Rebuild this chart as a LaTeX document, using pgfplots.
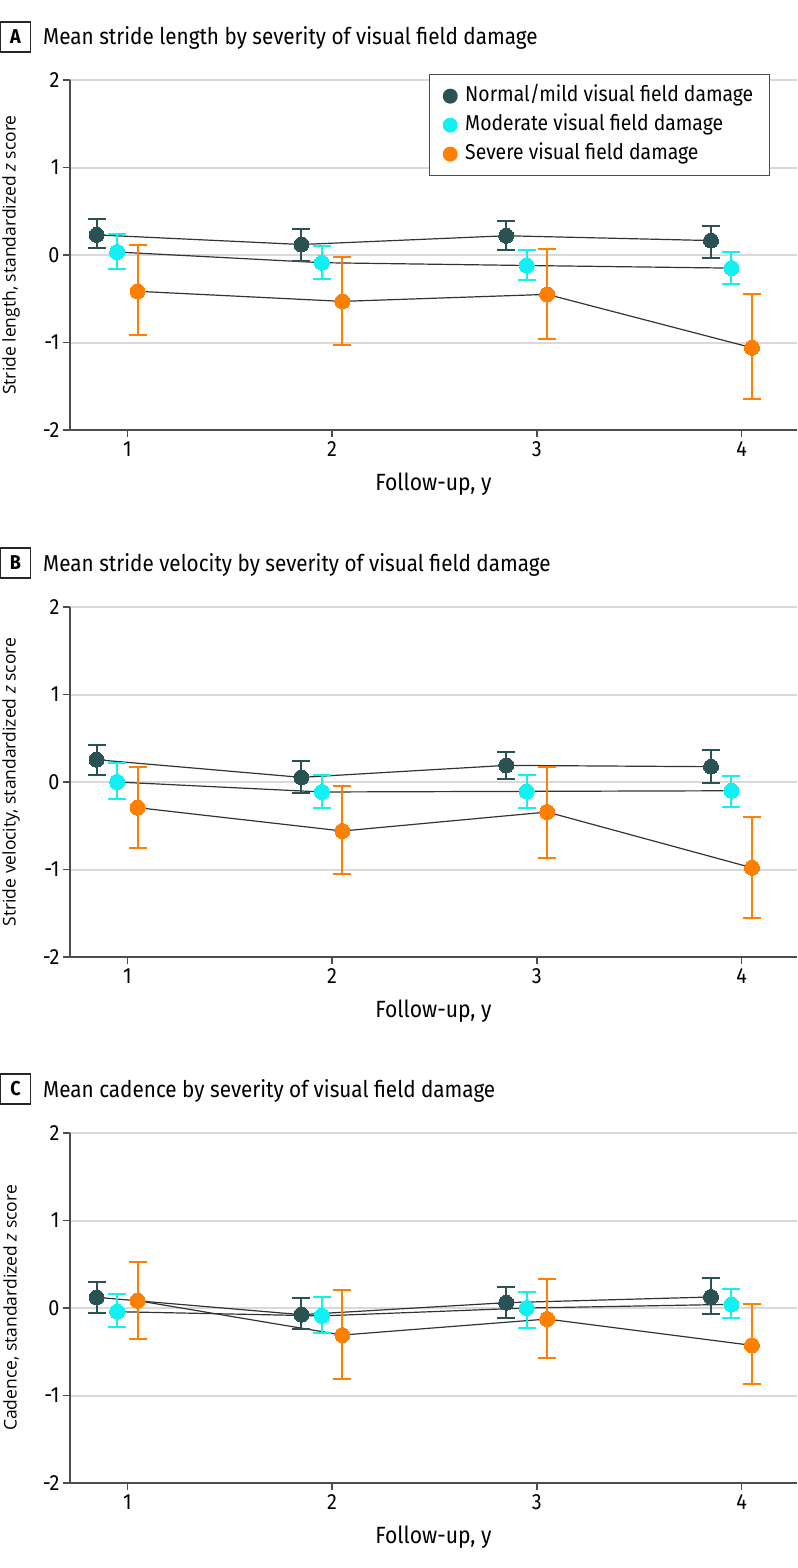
\documentclass[border=0pt]{standalone}
\usepackage{fontspec}
\setmainfont{Fira Sans}[FakeStretch=0.9]
\newfontfamily\ylabfont{Open Sans}
\usepackage{pgfplots}
\usepackage{pgfplotstable}
\pgfplotsset{compat=1.18}
\definecolor{cnorm}{HTML}{2B5252}
\definecolor{cmod}{HTML}{10F2F2}
\definecolor{csev}{HTML}{FF8000}
\definecolor{axgray}{HTML}{4D4D4D}
\definecolor{gridgray}{HTML}{D9D9D9}

% Panel A: stride length
\pgfplotstableread{
x y ep em
0.85 0.230 0.180 0.155
1.85 0.120 0.180 0.185
2.85 0.220 0.165 0.160
3.85 0.165 0.165 0.195
}\Anorm
\pgfplotstableread{
x y ep em
0.95 0.034 0.206 0.194
1.95 -0.088 0.188 0.182
2.95 -0.120 0.173 0.170
3.95 -0.150 0.184 0.180
}\Amod
\pgfplotstableread{
x y ep em
1.05 -0.415 0.525 0.500
2.05 -0.530 0.503 0.495
3.05 -0.450 0.522 0.510
4.05 -1.060 0.620 0.590
}\Asev
% Panel B: stride velocity
\pgfplotstableread{
x y ep em
0.85 0.255 0.172 0.171
1.85 0.053 0.183 0.173
2.85 0.190 0.153 0.156
3.85 0.175 0.191 0.186
}\Bnorm
\pgfplotstableread{
x y ep em
0.95 0.000 0.217 0.190
1.95 -0.114 0.198 0.183
2.95 -0.107 0.191 0.186
3.95 -0.100 0.172 0.186
}\Bmod
\pgfplotstableread{
x y ep em
1.05 -0.293 0.464 0.457
2.05 -0.560 0.510 0.490
3.05 -0.343 0.511 0.526
4.05 -0.980 0.576 0.578
}\Bsev
% Panel C: cadence
\pgfplotstableread{
x y ep em
0.85 0.122 0.178 0.182
1.85 -0.076 0.190 0.168
2.85 0.061 0.179 0.179
3.85 0.126 0.214 0.198
}\Cnorm
\pgfplotstableread{
x y ep em
0.95 -0.042 0.206 0.172
1.95 -0.090 0.216 0.196
2.95 0.000 0.183 0.233
3.95 0.042 0.175 0.160
}\Cmod
\pgfplotstableread{
x y ep em
1.05 0.084 0.442 0.439
2.05 -0.309 0.515 0.507
3.05 -0.126 0.462 0.442
4.05 -0.427 0.469 0.446
}\Csev

\pgfplotsset{
 panel/.style={
  width=727bp, height=350bp, scale only axis,
  xmin=0.72, xmax=4.27, ymin=-2, ymax=2,
  axis x line*=bottom, axis y line*=left,
  axis line style={axgray, line width=1.6bp},
  xtick={1,2,3,4}, xticklabels={1,2,3,4},
  ytick={-2,-1,0,1,2}, yticklabels={-2,-1,0,1,2},
  tick style={axgray, line width=1.5bp}, tick align=outside, major tick length=7bp,
  ymajorgrids, grid style={gridgray, line width=2bp},
  ticklabel style={font=\fontsize{22bp}{25bp}\selectfont},
  xticklabel style={yshift=-1bp},
  xlabel={Follow-up, y},
  xlabel style={font=\fontsize{23.5bp}{27bp}\selectfont, at={(axis description cs:0.5,0)}, anchor=center, yshift=-54bp},
  ylabel style={font=\ylabfont\fontsize{17.5bp}{20bp}\selectfont, at={(axis description cs:-0.081,0.5)}, anchor=center},
  clip=false,
 },
 lineplot/.style={color=black!80, line width=1.2bp, no markers, forget plot},
 errplot/.style={only marks, mark=*, mark size=7.5bp, color=#1,
   mark options={draw=#1, fill=#1, line width=0pt}, forget plot,
   error bars/y dir=both, error bars/y explicit,
   error bars/error bar style={line width=2bp, #1},
   error bars/error mark options={rotate=90, mark size=9bp, line width=2bp, #1}},
}

\newcommand{\panelplots}[3]{%
  \addplot[lineplot] table[x=x,y=y]{#1};
  \addplot[lineplot] table[x=x,y=y]{#2};
  \addplot[lineplot] table[x=x,y=y]{#3};
  \addplot[errplot=cnorm] table[x=x,y=y,y error plus=ep,y error minus=em]{#1};
  \addplot[errplot=cmod] table[x=x,y=y,y error plus=ep,y error minus=em]{#2};
  \addplot[errplot=csev] table[x=x,y=y,y error plus=ep,y error minus=em]{#3};
}

\begin{document}
\begin{tikzpicture}
\useasboundingbox (0,0) rectangle (798bp,-1568bp);

\begin{axis}[panel, at={(70bp,-430bp)}, anchor=south west,
  ylabel={Stride length, standardized \textit{z} score},
  legend style={at={(0.494,1.017)}, anchor=north west, draw=axgray, line width=1.2bp,
    fill=white, inner xsep=13bp, inner ysep=9bp, row sep=4bp, column sep=4.5bp,
    font=\fontsize{21.5bp}{25bp}\selectfont, cells={anchor=west},
    nodes={inner sep=3bp, text height=15bp, text depth=4bp}},
  legend image code/.code={\fill[#1] (7.5bp,0bp) circle (7.5bp);},
]
\panelplots{\Anorm}{\Amod}{\Asev}
\addlegendimage{fill=cnorm, draw=none}
\addlegendentry{Normal/mild visual field damage}
\addlegendimage{fill=cmod, draw=none}
\addlegendentry{Moderate visual field damage}
\addlegendimage{fill=csev, draw=none}
\addlegendentry{Severe visual field damage}
\end{axis}

\begin{axis}[panel, at={(70bp,-957bp)}, anchor=south west,
  ylabel={Stride velocity, standardized \textit{z} score}]
\panelplots{\Bnorm}{\Bmod}{\Bsev}
\end{axis}

\begin{axis}[panel, at={(70bp,-1483bp)}, anchor=south west,
  ylabel={Cadence, standardized \textit{z} score}]
\panelplots{\Cnorm}{\Cmod}{\Csev}
\end{axis}

\tikzset{panlet/.style={draw=black!85, line width=1.2bp, minimum width=30bp, minimum height=30bp,
  inner sep=0pt, font=\bfseries\fontsize{20bp}{24bp}\selectfont},
  pantit/.style={anchor=base west, inner sep=0pt, font=\fontsize{23bp}{27bp}\selectfont}}
\node[panlet] at (15.5bp,-37bp) {A};
\node[pantit] at (43bp,-44bp) {Mean stride length by severity of visual field damage};
\node[panlet] at (15.5bp,-563bp) {B};
\node[pantit] at (43bp,-571bp) {Mean stride velocity by severity of visual field damage};
\node[panlet] at (15.5bp,-1089bp) {C};
\node[pantit] at (43bp,-1097bp) {Mean cadence by severity of visual field damage};
\end{tikzpicture}
\end{document}
